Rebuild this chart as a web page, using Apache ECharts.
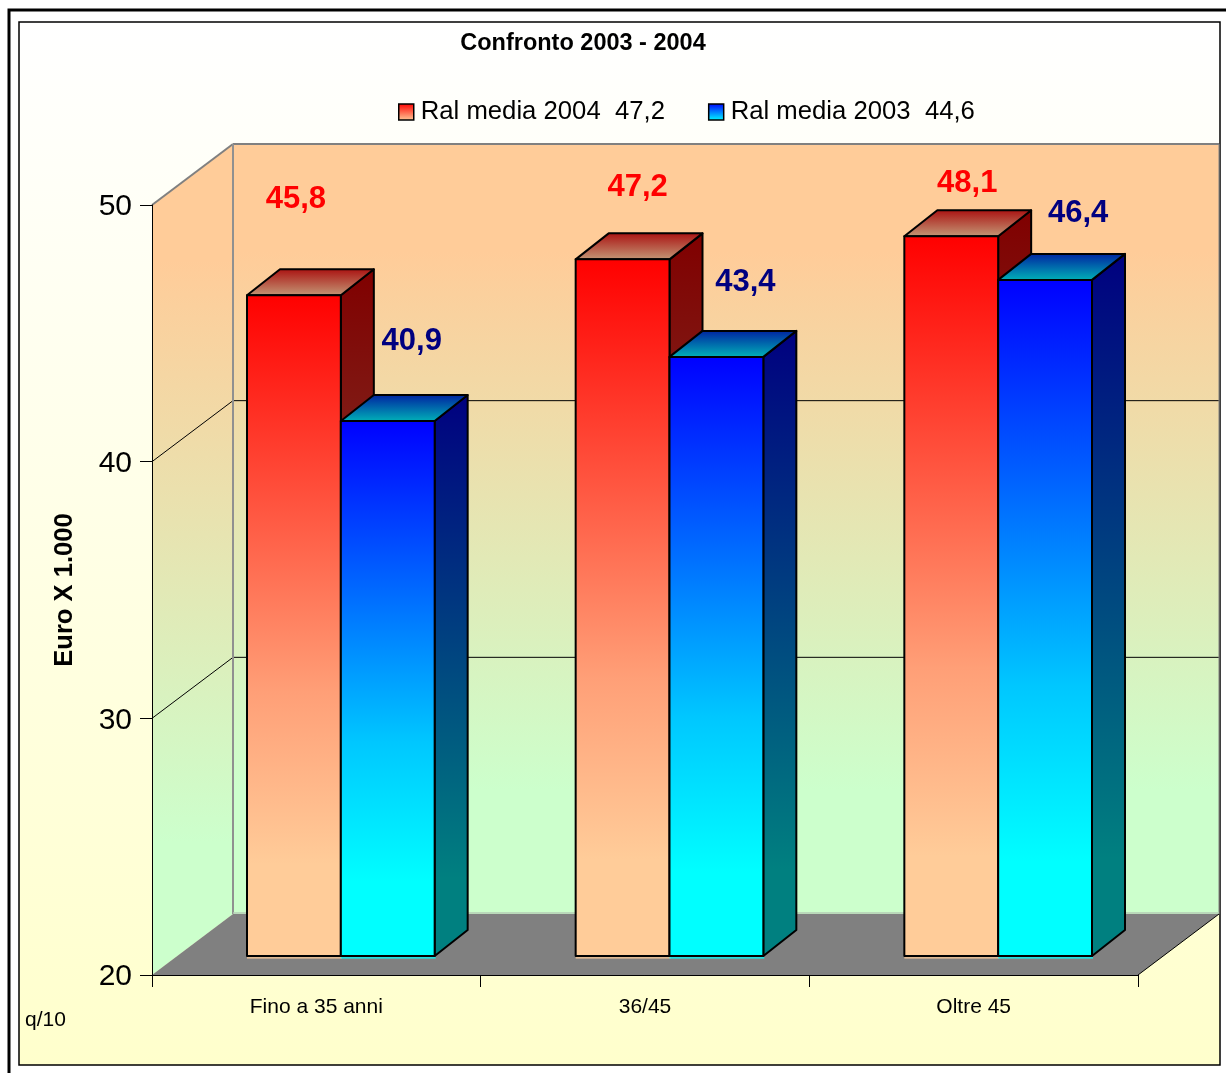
<!DOCTYPE html>
<html>
<head>
<meta charset="utf-8">
<style>html,body{margin:0;padding:0;background:#fff}#c{width:1226px;height:1073px}</style>
<script src="https://cdn.jsdelivr.net/npm/echarts@6/dist/echarts.min.js"></script>
</head>
<body>
<div id="c"></div>
<script>
const categories = ['Fino a 35 anni', '36/45', 'Oltre 45'];
const values2004 = [45.8, 47.2, 48.1];
const values2003 = [40.9, 43.4, 46.4];
const name2004 = 'Ral media 2004  47,2';
const name2003 = 'Ral media 2003  44,6';
const wallTicks = [30, 40];
const labelShift2004 = [[2, -95.5], [15, -71.5], [16, -52.5]];
const labelShift2003 = [[24, -79.5], [29, -74.5], [33, -66.5]];

const FONT = '"Liberation Sans", Arial, sans-serif';
const WALL_DX = 81, WALL_DY = 61;    // depth of the whole plot box
const BAR_DX = 24.5, BAR_DY = 19;    // front face of bars inside the box
const TOP_DY = 17.5;                 // front-top edge of a bar
const DEPTH_DX = 33, DEPTH_DY = 26;  // depth of a bar
const BAR_W_RATIO = 0.2855;

const G = echarts.graphic.LinearGradient;
const vgrad = (a, b, s0, s1) => new G(0, 0, 0, 1, [
  {offset: s0 || 0, color: a}, {offset: s1 === undefined ? 1 : s1, color: b}]);
const frontGrad = (a, b) => new G(0, 0, 0, 1, [
  {offset: 0, color: a},
  {offset: 0.6, color: echarts.color.lerp(0.78, [a, b])},
  {offset: 0.86, color: b}
]);
const poly = (pts, style, z2) => ({type: 'polygon', shape: {points: pts}, style, z2: z2 || 0, silent: true});
const line = (a, b, stroke, width, z2) => ({type: 'line', shape: {x1: a[0], y1: a[1], x2: b[0], y2: b[1]},
  style: {stroke, lineWidth: width || 1}, z2: z2 || 0, silent: true});

function renderWalls(params, api) {
  const cs = params.coordSys;
  const L = cs.x, R = cs.x + cs.width;
  const T = api.coord([0, 50])[1], B = api.coord([0, 20])[1];
  const d = [WALL_DX, WALL_DY];
  const wallGrad = vgrad('#FFCC99', '#CCFFCC', 0.14, 0.84);
  const kids = [
    poly([[L + d[0], T - d[1]], [R + d[0], T - d[1]], [R + d[0], B - d[1]], [L + d[0], B - d[1]]], {fill: wallGrad}),
    poly([[L, T], [L + d[0], T - d[1]], [L + d[0], B - d[1]], [L, B]], {fill: wallGrad}),
    poly([[L, B], [L + d[0], B - d[1]], [R + d[0], B - d[1]], [R, B]], {fill: '#808080'}),
    line([L, T], [L + d[0], T - d[1]], '#808080', 2, 2),
    line([L + d[0], T - d[1]], [R + d[0], T - d[1]], '#808080', 2, 2),
    line([L + d[0], T - d[1]], [L + d[0], B - d[1]], '#909090', 2, 2),
    line([R + d[0], T - d[1]], [R + d[0], B - d[1]], '#808080', 1, 2),
    line([L + d[0], B - d[1] - 1], [R + d[0], B - d[1] - 1], '#B4CCB4', 1.5, 2),
    line([R, B], [R + d[0], B - d[1]], '#000000', 1, 2)
  ];
  wallTicks.forEach(v => {
    const y = api.coord([0, v])[1];
    kids.push(line([L, y], [L + d[0], y - d[1]], '#000000', 1, 1));
    kids.push(line([L + d[0], y - d[1]], [R + d[0], y - d[1]], '#000000', 1, 1));
  });
  return {type: 'group', children: kids};
}

function barRenderer(opt) {
  return function (params, api) {
    const i = api.value(0), v = api.value(1);
    const c = api.coord([i, v]), base = api.coord([i, 20]);
    const w = api.size([1, 0])[0] * BAR_W_RATIO;
    const x0 = c[0] + BAR_DX + opt.side * w, x1 = x0 + w;
    const yT = c[1] - TOP_DY, yB = base[1] - BAR_DY;
    const dx = DEPTH_DX, dy = DEPTH_DY;
    const border = {stroke: '#000', lineWidth: 2, lineJoin: 'round'};
    const shift = opt.shift[i];
    return {type: 'group', children: [
      line([x0, yB + 1.8], [x1 + 1, yB + 1.8], opt.bottom, 1.2, 0),
      poly([[x1, yT], [x1 + dx, yT - dy], [x1 + dx, yB - dy], [x1, yB]],
        Object.assign({fill: vgrad(opt.sideTop, opt.sideBottom, 0, 0.86)}, border), 1),
      poly([[x0, yT], [x0 + dx, yT - dy], [x1 + dx, yT - dy], [x1, yT]],
        Object.assign({fill: vgrad(opt.capBack, opt.capFront)}, border), 2),
      poly([[x0, yT], [x1, yT], [x1, yB], [x0, yB]],
        Object.assign({fill: frontGrad(opt.top, opt.bottom)}, border), 3),
      {type: 'text', z2: 10, silent: true, style: {
        text: v.toFixed(1).replace('.', ','),
        x: x0 + w / 2 + shift[0], y: yT + shift[1],
        align: 'center', verticalAlign: 'middle',
        fill: opt.labelColor, font: 'bold 31px ' + FONT
      }}
    ]};
  };
}

const chart = echarts.init(document.getElementById('c'), null, {renderer: 'canvas'});
chart.setOption({
  animation: false,
  backgroundColor: '#ffffff',
  title: {
    text: 'Confronto 2003 - 2004', left: 578, top: 27, textAlign: 'center',
    textStyle: {fontFamily: FONT, fontWeight: 'bold', fontSize: 23.5, color: '#000'}
  },
  legend: {
    left: 398, top: 99, selectedMode: false, itemWidth: 15, itemHeight: 16, itemGap: 43,
    icon: 'rect', padding: 0,
    textStyle: {fontFamily: FONT, fontSize: 25.7, color: '#000', padding: [0, 0, 0, 2]},
    data: [
      {name: name2004, itemStyle: {color: vgrad('#FF0000', '#FFCC99'), borderColor: '#000', borderWidth: 1.5}},
      {name: name2003, itemStyle: {color: vgrad('#0000FF', '#00FFFF'), borderColor: '#000', borderWidth: 1.5}}
    ]
  },
  grid: {left: 152, right: 88, top: 205, bottom: 98, containLabel: false},
  xAxis: {
    type: 'category', data: categories, z: 6,
    axisLine: {onZero: false, lineStyle: {color: '#000', width: 1}},
    axisTick: {show: true, length: 12, inside: false, lineStyle: {color: '#000'}, alignWithLabel: false},
    axisLabel: {fontFamily: FONT, fontSize: 21, color: '#000', margin: 22, interval: 0}
  },
  yAxis: {
    type: 'value', min: 20, max: 50, interval: 10, z: 6,
    name: 'Euro X 1.000', nameLocation: 'middle', nameGap: 74, nameRotate: 90,
    nameTextStyle: {fontFamily: FONT, fontWeight: 'bold', fontSize: 25.6, color: '#000'},
    axisLine: {show: true, lineStyle: {color: '#000', width: 1}},
    axisTick: {show: true, length: 12, lineStyle: {color: '#000'}},
    axisLabel: {
      color: '#000', margin: 20, formatter: '{a|{value}}',
      rich: {a: {fontFamily: FONT, fontSize: 30, color: '#000', padding: [4, 0, 0, 0]}}
    },
    splitLine: {show: false}
  },
  graphic: {elements: [
    {type: 'rect', z: -10, silent: true, shape: {x: 9, y: 10, width: 1240, height: 1090},
      style: {fill: '#fff', stroke: '#000', lineWidth: 3}},
    {type: 'rect', z: -9, silent: true, shape: {x: 19, y: 22, width: 1201, height: 1043},
      style: {fill: vgrad('#FFFFFF', '#FFFFCC'), stroke: '#000', lineWidth: 1.5}},
    {type: 'text', z: 5, silent: true, style: {x: 25, y: 1020, text: 'q/10', verticalAlign: 'middle',
      fill: '#000', font: '21px ' + FONT}}
  ]},
  series: [
    {type: 'custom', name: 'walls', z: 1, silent: true, data: [[0, 20]], encode: {x: 0, y: 1},
      renderItem: renderWalls, clip: false},
    {type: 'custom', name: name2004, z: 3, silent: true, clip: false,
      data: values2004.map((v, i) => [i, v]), encode: {x: 0, y: 1},
      renderItem: barRenderer({side: -1, shift: labelShift2004, labelColor: '#FF0000',
        top: '#FF0000', bottom: '#FFCC99', sideTop: '#800000', sideBottom: '#806650',
        capBack: '#AA1010', capFront: '#C49A78'})},
    {type: 'custom', name: name2003, z: 4, silent: true, clip: false,
      data: values2003.map((v, i) => [i, v]), encode: {x: 0, y: 1},
      renderItem: barRenderer({side: 0, shift: labelShift2003, labelColor: '#000080',
        top: '#0000FF', bottom: '#00FFFF', sideTop: '#000080', sideBottom: '#008080',
        capBack: '#0020A0', capFront: '#00B4B8'})}
  ]
});
</script>
</body>
</html>
